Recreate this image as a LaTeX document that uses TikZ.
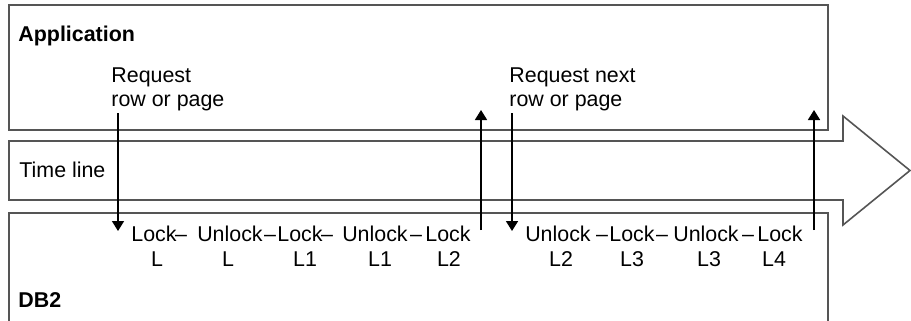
\documentclass[tikz,border=0pt]{standalone}
\usepackage{fontspec}
\setmainfont{Liberation Sans}
\usepackage{tikz}
\usetikzlibrary{arrows.meta}
\usepackage{xcolor}
\definecolor{framegray}{RGB}{85,85,85}

\begin{document}
\begin{tikzpicture}[x=0.5pt,y=-0.5pt,
  font=\fontsize{10.7}{12}\selectfont,
  frame/.style={framegray,line width=0.8pt},
  flow/.style={line width=0.8pt,-{Triangle[length=5pt,width=6pt]}},
  word/.style={anchor=base,inner sep=0pt},
  tag/.style={anchor=base west,inner sep=0pt,align=left}]
\useasboundingbox (0,0) rectangle (911,321);
\draw[frame] (9,5) rectangle (828,130);
\draw[frame] (9,321) -- (9,213) -- (828,213) -- (828,321);
\draw[frame] (9,141) -- (843,141) -- (843,116) -- (910,170.5) -- (843,225) -- (843,200) -- (9,200) -- cycle;
\node[tag,font=\fontsize{10.7}{12}\bfseries] (app) at (18,41) {Application};
\node[tag] (req) at (111,106) {Request\\row or page};
\node[tag] (reqnext) at (509,106) {Request next\\row or page};
\node[tag] (time) at (19,177) {Time line};
\node[tag,font=\fontsize{10.7}{12}\bfseries] (db) at (18,307) {DB2};
% lock sequence
\foreach \x/\y/\w/\l [count=\i] in {154/157/Lock/L,230/228/Unlock/L,300/305/Lock/L1,375/380/Unlock/L1,448/449/Lock/L2,558/561/Unlock/L2,632/632/Lock/L3,706/709/Unlock/L3,780/774/Lock/L4} {
  \node[word] (w\i) at (\x,241) {\w};
  \node[word] (l\i) at (\y,266) {\l};
}
\foreach \x [count=\i] in {181,270,327,416,602,662,748}
  \node[word] (d\i) at (\x,241) {–};
% requests and replies
\coordinate (q1) at (118,113);
\coordinate (r1) at (118,231);
\coordinate (s1) at (481,230);
\coordinate (t1) at (481,110);
\coordinate (q2) at (512,113);
\coordinate (r2) at (512,231);
\coordinate (s2) at (814,230);
\coordinate (t2) at (814,110);
\draw[flow] (q1) -- (r1);
\draw[flow] (s1) -- (t1);
\draw[flow] (q2) -- (r2);
\draw[flow] (s2) -- (t2);
\end{tikzpicture}
\end{document}
